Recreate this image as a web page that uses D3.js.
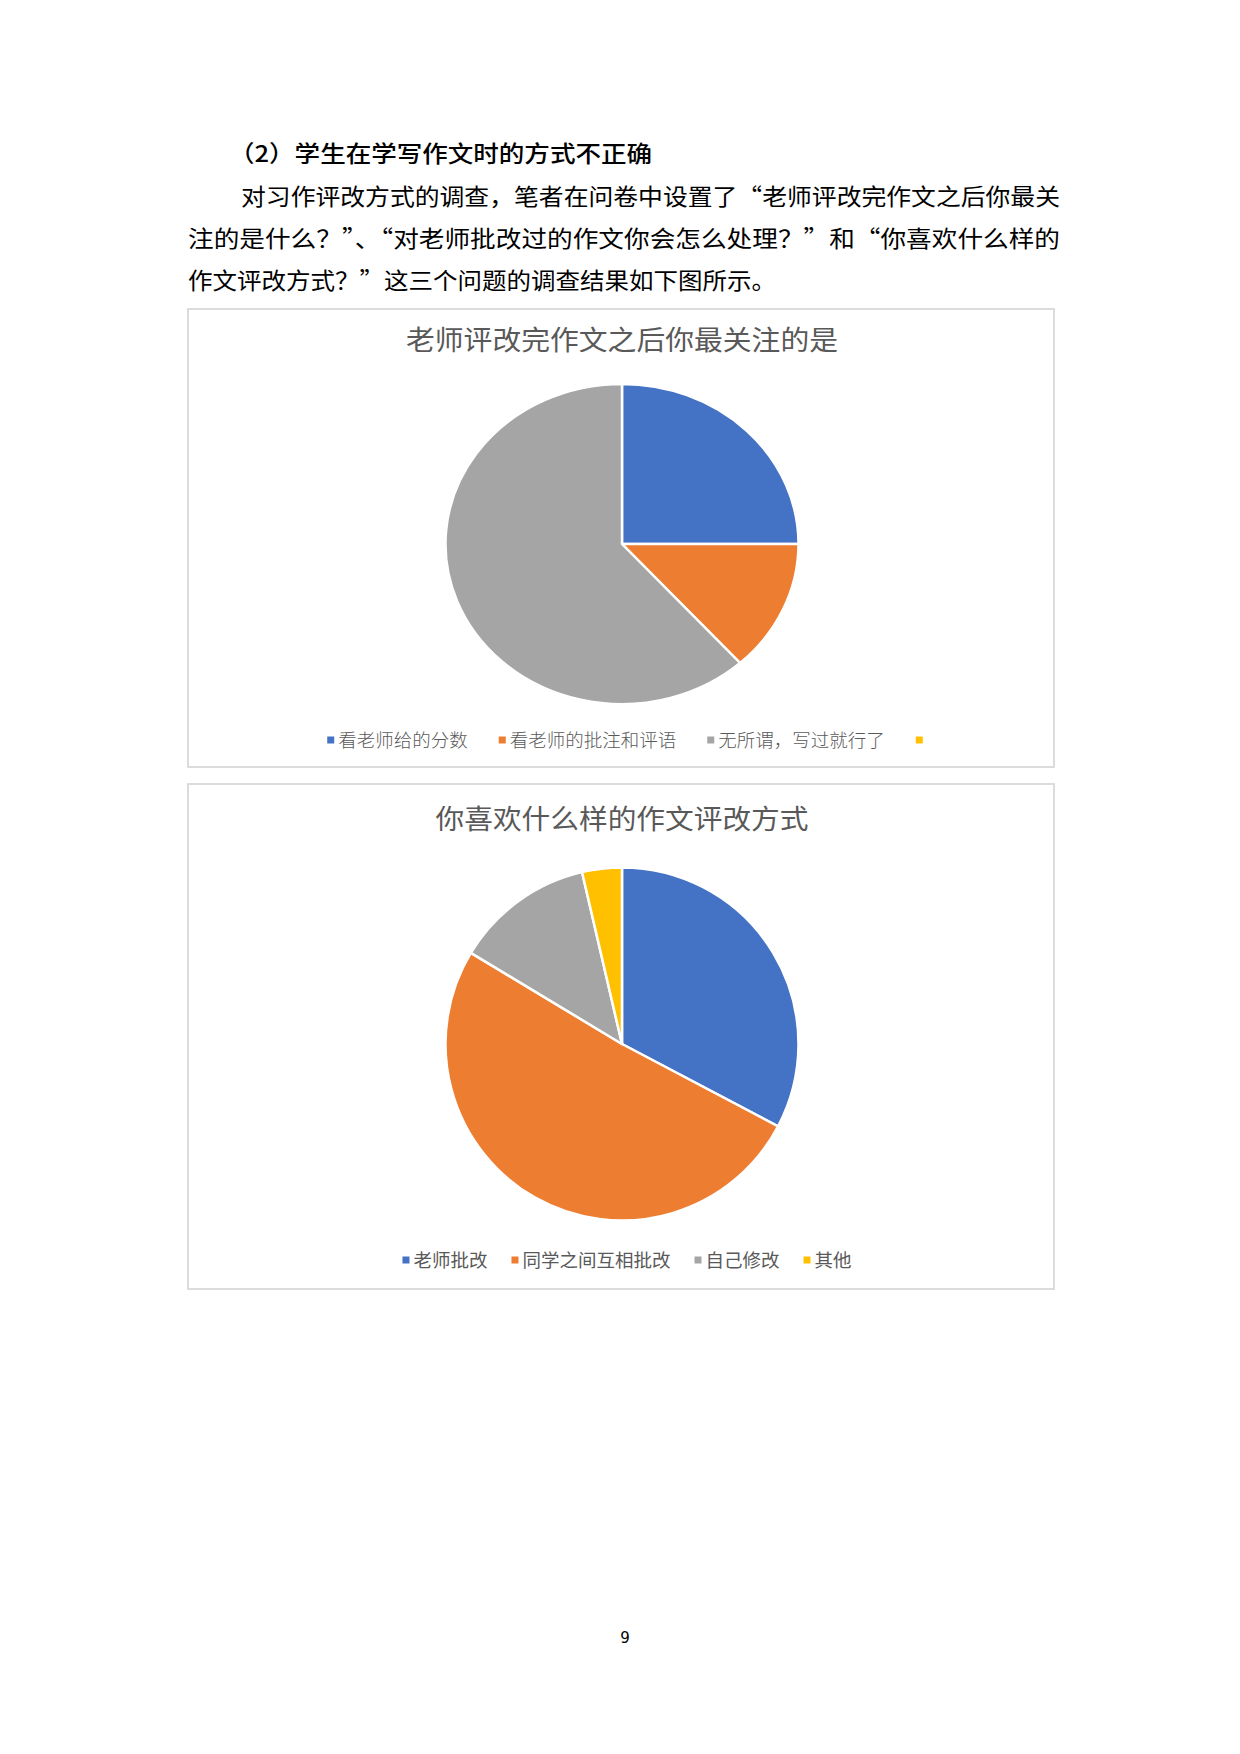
<!DOCTYPE html>
<html>
<head>
<meta charset="utf-8">
<script src="https://cdn.jsdelivr.net/npm/d3@7/dist/d3.min.js"></script>
<style>
  html, body { margin: 0; padding: 0; background: #fff; }
  svg { display: block; }
</style>
</head>
<body>
<svg id="page" width="1240" height="1754"></svg>
<script>
// ---------- data ----------
const headingText = "（2）学生在学写作文时的方式不正确";
const paragraphLines = [
  "对习作评改方式的调查，笔者在问卷中设置了“老师评改完作文之后你最关",
  "注的是什么？”、“对老师批改过的作文你会怎么处理？”和“你喜欢什么样的",
  "作文评改方式？”这三个问题的调查结果如下图所示。"
];
const chart1Title = "老师评改完作文之后你最关注的是";
const chart1Categories = ["看老师给的分数", "看老师的批注和评语", "无所谓，写过就行了", ""];
const chart1Values = [15, 8, 37, 0];

const chart2Title = "你喜欢什么样的作文评改方式";
const chart2Categories = ["老师批改", "同学之间互相批改", "自己修改", "其他"];
const chart2Values = [18, 28, 7, 2];

const seriesColors = ["#4472C4", "#ED7D31", "#A5A5A5", "#FFC000"];
const pageNumber = "9";

// ---------- drawing ----------
const svg = d3.select("#page");
svg.append("rect").attr("width", 1240).attr("height", 1754).attr("fill", "#fff");

const cjk = "'Noto Sans CJK SC', 'Noto Sans', sans-serif";

// heading
svg.append("text")
  .attr("x", 229).attr("y", 162)
  .attr("font-family", cjk).attr("font-size", 23).attr("font-weight", 500)
  .attr("fill", "#000")
  .attr("textLength", 423).attr("lengthAdjust", "spacingAndGlyphs")
  .text(headingText);

// paragraph
const paraLayout = [
  { x: 241, y: 205, len: 819 },
  { x: 188, y: 247, len: 872 },
  { x: 188, y: 289, len: 588 }
];
svg.selectAll("text.para").data(paragraphLines).join("text")
  .attr("class", "para")
  .attr("x", (d, i) => paraLayout[i].x)
  .attr("y", (d, i) => paraLayout[i].y)
  .attr("textLength", (d, i) => paraLayout[i].len)
  .attr("lengthAdjust", "spacingAndGlyphs")
  .attr("font-family", cjk).attr("font-size", 23)
  .attr("fill", "#000")
  .text(d => d);

function drawPieChart(cfg) {
  const g = svg.append("g");
  g.append("rect")
    .attr("x", cfg.box.x).attr("y", cfg.box.y)
    .attr("width", cfg.box.w).attr("height", cfg.box.h)
    .attr("fill", "#fff").attr("stroke", "#D9D9D9").attr("stroke-width", 1.8);

  g.append("text")
    .attr("x", cfg.cx).attr("y", cfg.titleY)
    .attr("text-anchor", "middle")
    .attr("font-family", cjk).attr("font-size", 27)
    .attr("fill", "#595959")
    .attr("textLength", cfg.titleLen).attr("lengthAdjust", "spacingAndGlyphs")
    .text(cfg.title);

  const pie = d3.pie().sort(null).value(d => d.value);
  const arcs = pie(cfg.categories.map((c, i) => ({ name: c, value: cfg.values[i] })));
  const arc = d3.arc().innerRadius(0).outerRadius(cfg.r);
  const color = d3.scaleOrdinal().domain(cfg.categories.map((c, i) => i)).range(seriesColors);

  const pg = g.append("g")
    .attr("transform", `translate(${cfg.cx},${cfg.cy}) scale(1,${cfg.sy})`);
  pg.selectAll("path").data(arcs.filter(a => a.data.value > 0)).join("path")
    .attr("d", arc)
    .attr("fill", d => color(d.index))
    .attr("stroke", "#fff").attr("stroke-width", 2.5)
    .attr("stroke-linejoin", "round");

  // legend
  const lg = g.append("g");
  const items = lg.selectAll("g").data(cfg.categories).join("g");
  items.append("rect")
    .attr("width", 7).attr("height", 7)
    .attr("y", -3.5)
    .attr("fill", (d, i) => seriesColors[i]);
  items.append("text")
    .attr("x", 11).attr("y", 6.5)
    .attr("font-family", cjk).attr("font-size", cfg.legendSize)
    .attr("font-weight", cfg.legendWeight)
    .attr("fill", "#595959")
    .text(d => d);
  let x = 0;
  const gap = cfg.legendGap;
  items.each(function () {
    const t = d3.select(this).select("text").node();
    const w = t.textContent ? t.getComputedTextLength() : 0;
    d3.select(this).attr("data-x", x);
    x += 11 + w + gap;
  });
  const total = x - gap;
  const start = cfg.legendCx - total / 2;
  items.attr("transform", function () {
    return `translate(${start + (+d3.select(this).attr("data-x"))},${cfg.legendY})`;
  });
}

drawPieChart({
  box: { x: 188, y: 309, w: 866, h: 458 },
  title: chart1Title, titleY: 350, titleLen: 432,
  categories: chart1Categories, values: chart1Values,
  cx: 622, cy: 544, r: 176.5, sy: 160 / 176.5,
  legendY: 740, legendCx: 627, legendSize: 18.5, legendGap: 31, legendWeight: 300
});

drawPieChart({
  box: { x: 188, y: 784, w: 866, h: 505 },
  title: chart2Title, titleY: 829, titleLen: 373,
  categories: chart2Categories, values: chart2Values,
  cx: 622, cy: 1044, r: 176.5, sy: 1,
  legendY: 1260, legendCx: 627, legendSize: 18.5, legendGap: 24, legendWeight: 400
});

// page number
svg.append("text")
  .attr("x", 625).attr("y", 1643)
  .attr("text-anchor", "middle")
  .attr("font-family", "'DejaVu Sans', sans-serif").attr("font-size", 15)
  .attr("fill", "#000")
  .text(pageNumber);
</script>
</body>
</html>
